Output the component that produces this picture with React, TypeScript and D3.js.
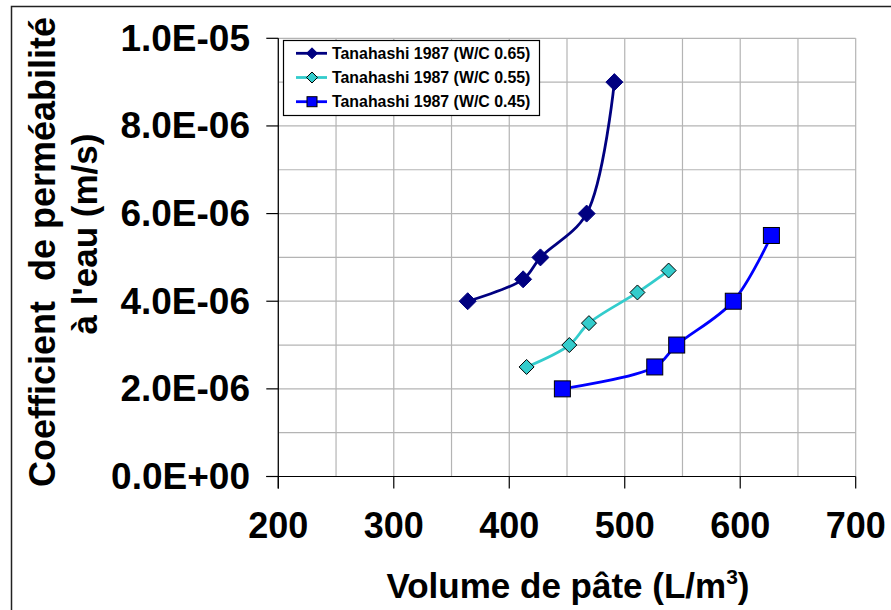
import React from "react";
import * as d3 from "d3";

const xTicks = [200, 300, 400, 500, 600, 700];
const yTicks = [0, 2e-6, 4e-6, 6e-6, 8e-6, 1e-5];
const yTickLabels = ["0.0E+00", "2.0E-06", "4.0E-06", "6.0E-06", "8.0E-06", "1.0E-05"];

const s065x = [364, 412, 427, 467, 491];
const s065y = [4.0e-6, 4.5e-6, 5.0e-6, 6.0e-6, 9.0e-6];
const s055x = [415, 452, 469, 511, 538];
const s055y = [2.5e-6, 3.0e-6, 3.5e-6, 4.2e-6, 4.7e-6];
const s045x = [446, 526, 545, 594, 627];
const s045y = [2.0e-6, 2.5e-6, 3.0e-6, 4.0e-6, 5.5e-6];

const seriesNames = [
  "Tanahashi 1987 (W/C 0.65)",
  "Tanahashi 1987 (W/C 0.55)",
  "Tanahashi 1987 (W/C 0.45)",
];

const W = 891;
const H = 610;
const FONT = "'Liberation Sans', Arial, sans-serif";

export default function App() {
  const x = d3.scaleLinear().domain([200, 700]).range([278.3, 855.7]);
  const y = d3.scaleLinear().domain([0, 1e-5]).range([476.5, 38.3]);

  const series = [
    { xs: s065x, ys: s065y, color: "#000080", marker: "diamond", stroke: "#000080", size: 8.5 },
    { xs: s055x, ys: s055y, color: "#33CCCC", marker: "diamond", stroke: "#000000", size: 7.5 },
    { xs: s045x, ys: s045y, color: "#0000FF", marker: "square", stroke: "#000000", size: 8 },
  ];

  const line = d3
    .line<[number, number]>()
    .x((d) => x(d[0]))
    .y((d) => y(d[1]))
    .curve(d3.curveCatmullRom.alpha(0.5));

  const gridX = d3.range(200, 701, 50);
  const gridY = d3.range(0, 11).map((i) => i * 1e-6);

  const marker = (type: string, cx: number, cy: number, s: number, fill: string, stroke: string, key: any) =>
    type === "diamond" ? (
      <path
        key={key}
        d={`M${cx},${cy - s}L${cx + s},${cy}L${cx},${cy + s}L${cx - s},${cy}Z`}
        fill={fill}
        stroke={stroke}
        strokeWidth={1}
      />
    ) : (
      <rect key={key} x={cx - s} y={cy - s} width={2 * s} height={2 * s} fill={fill} stroke={stroke} strokeWidth={1} />
    );

  return (
    <svg width={W} height={H} style={{ position: "absolute", left: 0, top: 0 }} fontFamily={FONT}>
      <rect x={0} y={0} width={W} height={H} fill="#fff" />
      <rect x={11.5} y={6.5} width={W + 10} height={H + 10} fill="none" stroke="#222" strokeWidth={1.5} />
      {/* grid */}
      {gridX.map((v) => (
        <line key={"gx" + v} x1={x(v)} x2={x(v)} y1={y(1e-5)} y2={y(0)} stroke="#b4b4b4" strokeWidth={1.2} />
      ))}
      {gridY.map((v, i) => (
        <line key={"gy" + i} x1={x(200)} x2={x(700)} y1={y(v)} y2={y(v)} stroke="#b4b4b4" strokeWidth={1.2} />
      ))}
      {/* axes */}
      <line x1={x(200)} x2={x(200)} y1={y(1e-5)} y2={y(0) + 12} stroke="#000" strokeWidth={1.2} />
      <line x1={x(200) - 12} x2={x(700)} y1={y(0)} y2={y(0)} stroke="#000" strokeWidth={1.2} />
      {xTicks.map((t) => (
        <g key={"xt" + t}>
          <line x1={x(t)} x2={x(t)} y1={y(0)} y2={y(0) + 12} stroke="#000" strokeWidth={1.2} />
          <text x={x(t)} y={538} textAnchor="middle" fontSize={36} fontWeight="bold">
            {t}
          </text>
        </g>
      ))}
      {yTicks.map((t, i) => (
        <g key={"yt" + i}>
          <line x1={x(200) - 12} x2={x(200)} y1={y(t)} y2={y(t)} stroke="#000" strokeWidth={1.2} />
          <text x={250} y={y(t) + 12.5} textAnchor="end" fontSize={37} fontWeight="bold">
            {yTickLabels[i]}
          </text>
        </g>
      ))}
      {/* axis titles */}
      <text x={568} y={598} textAnchor="middle" fontSize={35} fontWeight="bold">
        Volume de pâte (L/m
        <tspan dy={-14} fontSize={21}>
          3
        </tspan>
        <tspan dy={14}>)</tspan>
      </text>
      <text transform="translate(55,252) rotate(-90)" textAnchor="middle" fontSize={36} fontWeight="bold" xmlSpace="preserve">
        Coefficient  de perméabilité
      </text>
      <text transform="translate(97,234) rotate(-90)" textAnchor="middle" fontSize={35} fontWeight="bold">
        à l'eau (m/s)
      </text>
      {/* series */}
      {series.map((s, si) => {
        const pts = s.xs.map((v, i) => [v, s.ys[i]] as [number, number]);
        return (
          <g key={"s" + si}>
            <path d={line(pts) || ""} fill="none" stroke={s.color} strokeWidth={2.8} />
            {pts.map((p, i) => marker(s.marker, x(p[0]), y(p[1]), s.size, s.color, s.stroke, i))}
          </g>
        );
      })}
      {/* legend */}
      <rect x={283.5} y={40.5} width={256} height={75} fill="#fff" stroke="#000" strokeWidth={1.2} />
      {series.map((s, si) => {
        const ly = 53.3 + si * 24.2;
        return (
          <g key={"l" + si}>
            <line x1={296} x2={327} y1={ly} y2={ly} stroke={s.color} strokeWidth={2.8} />
            {marker(s.marker, 312, ly, s.marker === "diamond" ? 5.5 : 5, s.color, s.stroke, "m")}
            <text x={332} y={ly + 5.5} fontSize={15.9} fontWeight="bold">
              {seriesNames[si]}
            </text>
          </g>
        );
      })}
    </svg>
  );
}
